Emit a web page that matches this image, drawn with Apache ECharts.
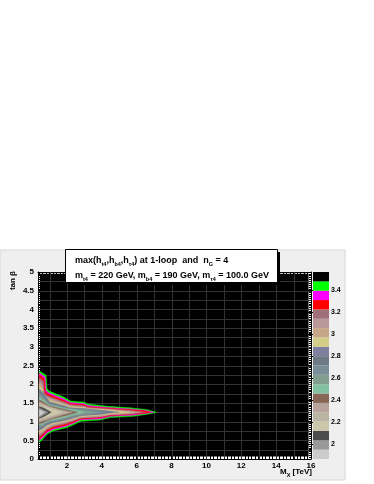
<!DOCTYPE html>
<html><head><meta charset="utf-8">
<script src="https://cdn.jsdelivr.net/npm/echarts@6/dist/echarts.min.js"></script>
<style>html,body{margin:0;padding:0;background:#fff}#c{width:374px;height:484px}</style>
</head><body><div id="c"></div>
<script>
// ---- axes ----
const xMin = 0.34, xMax = 16, yMin = 0, yMax = 5;
const xLabelVals = [2, 4, 6, 8, 10, 12, 14, 16];
const gridX = [1, 2, 3, 4, 5, 6, 7, 8, 9, 10, 11, 12, 13, 14, 15];
const gridY = [0.25, 0.5, 0.75, 1, 1.25, 1.5, 1.75, 2, 2.25, 2.5, 2.75, 3, 3.25, 3.5, 3.75, 4, 4.25, 4.5, 4.75];
const fillX = [0.455, 15.86], fillY = [0.07, 4.95];
// ---- colour scale (contour levels, bottom -> top) ----
const cbLevels = [1.866, 1.951, 2.036, 2.121, 2.206, 2.291, 2.376, 2.461, 2.546, 2.631, 2.716,
                  2.801, 2.886, 2.971, 3.056, 3.141, 3.226, 3.311, 3.396, 3.481, 3.566];
const cbColors = ['#cccccc', '#999999', '#4c4c4c', '#ccc6aa', '#bab5a3', '#b7a39b', '#876656', '#84c1a3',
                  '#829e8c', '#7a8e99', '#6d7a84', '#7f7fa0', '#d3ce87', '#c6a888', '#b89898', '#a07078',
                  '#ff0000', '#ff00ff', '#00ff00', '#000000'];
const cbTickVals = [2, 2.2, 2.4, 2.6, 2.8, 3, 3.2, 3.4];
// ---- contour boundaries (region below each level), [M_X, tan beta] ----
const c19 = [[0.42,2.35],[0.8,2.24],[0.86,1.88],[1.0,1.81],[1.8,1.66],[2.2,1.55],[3.0,1.52],[3.2,1.47],[4.3,1.41],[5.6,1.37],[6.6,1.32],[7.13,1.25],[6.8,1.21],[5.8,1.14],[4.5,1.11],[3.9,1.04],[2.8,1.01],[2.4,0.92],[2.0,0.84],[1.2,0.75],[0.85,0.66],[0.6,0.52],[0.42,0.45]];
const c18 = [[0.42,2.30],[0.75,2.19],[0.8,1.83],[1.0,1.76],[1.8,1.61],[2.2,1.51],[3.0,1.48],[3.2,1.43],[4.3,1.38],[5.6,1.34],[6.5,1.30],[6.98,1.25],[6.6,1.22],[5.8,1.17],[4.5,1.14],[3.9,1.07],[2.8,1.05],[2.4,0.96],[2.0,0.88],[1.2,0.79],[0.85,0.70],[0.6,0.57],[0.42,0.50]];
const c17 = [[0.42,2.25],[0.7,2.14],[0.75,1.79],[1.0,1.72],[1.8,1.57],[2.2,1.48],[3.0,1.45],[3.2,1.40],[4.3,1.36],[5.6,1.32],[6.4,1.29],[6.8,1.25],[6.4,1.22],[5.6,1.19],[4.5,1.16],[3.9,1.10],[2.8,1.07],[2.4,0.99],[2.0,0.91],[1.2,0.82],[0.85,0.74],[0.6,0.61],[0.42,0.54]];
const c16 = [[0.42,2.18],[0.65,2.08],[0.7,1.75],[1.0,1.67],[1.8,1.53],[2.2,1.45],[3.0,1.42],[3.2,1.38],[4.3,1.34],[5.6,1.30],[6.5,1.25],[5.6,1.20],[4.5,1.18],[3.9,1.12],[2.8,1.09],[2.4,1.02],[2.0,0.95],[1.2,0.86],[0.85,0.78],[0.6,0.66],[0.42,0.59]];
const c15 = [[0.42,2.10],[0.6,2.0],[0.65,1.72],[1.0,1.63],[1.8,1.50],[2.2,1.43],[3.0,1.40],[3.2,1.36],[4.3,1.33],[5.6,1.28],[6.2,1.25],[5.6,1.21],[4.5,1.19],[3.9,1.14],[2.8,1.11],[2.4,1.04],[2.0,0.98],[1.2,0.89],[0.85,0.81],[0.6,0.70],[0.42,0.64]];
const c14 = [[0.42,2.02],[0.6,1.92],[0.65,1.68],[1.0,1.59],[1.8,1.47],[2.2,1.41],[3.0,1.38],[3.2,1.35],[4.3,1.32],[5.9,1.25],[5.4,1.22],[4.5,1.20],[3.9,1.16],[2.8,1.13],[2.4,1.06],[2.0,1.00],[1.2,0.92],[0.85,0.84],[0.6,0.74],[0.42,0.68]];
const c13 = [[0.42,1.95],[0.6,1.85],[0.65,1.65],[1.0,1.56],[1.8,1.45],[2.2,1.39],[3.0,1.37],[3.2,1.34],[4.3,1.31],[5.6,1.25],[4.5,1.21],[3.9,1.17],[2.8,1.14],[2.4,1.08],[2.0,1.02],[1.2,0.95],[0.85,0.87],[0.6,0.77],[0.42,0.72]];
const c12 = [[0.42,1.88],[0.6,1.79],[1.0,1.53],[1.8,1.43],[2.2,1.37],[3.0,1.35],[3.2,1.33],[4.3,1.29],[5.0,1.25],[4.3,1.22],[3.9,1.19],[2.8,1.16],[2.4,1.10],[2.0,1.04],[1.2,0.97],[0.85,0.90],[0.6,0.81],[0.42,0.76]];
const c11 = [[0.42,1.82],[0.6,1.74],[1.0,1.50],[1.8,1.41],[2.2,1.36],[3.0,1.34],[3.8,1.30],[4.6,1.25],[3.9,1.20],[2.8,1.17],[2.4,1.12],[2.0,1.06],[1.2,0.99],[0.85,0.93],[0.6,0.84],[0.42,0.80]];
const c10 = [[0.42,1.76],[0.6,1.69],[1.0,1.48],[1.8,1.39],[2.2,1.35],[3.0,1.32],[3.6,1.29],[4.2,1.25],[3.6,1.21],[2.8,1.18],[2.4,1.14],[2.0,1.08],[1.2,1.01],[0.85,0.96],[0.6,0.87],[0.42,0.84]];
const c9  = [[0.42,1.70],[0.6,1.64],[1.0,1.46],[1.8,1.37],[2.4,1.33],[3.0,1.30],[3.7,1.25],[3.0,1.20],[2.4,1.16],[2.0,1.10],[1.2,1.03],[0.85,0.98],[0.6,0.90],[0.42,0.88]];
const c8  = [[0.42,1.64],[0.6,1.59],[1.0,1.44],[1.8,1.35],[2.4,1.31],[3.0,1.25],[2.4,1.19],[2.0,1.13],[1.2,1.05],[0.85,1.00],[0.6,0.93],[0.42,0.92]];
const c7  = [[0.42,1.58],[0.6,1.54],[1.0,1.42],[1.8,1.33],[2.6,1.25],[2.0,1.17],[1.2,1.08],[0.85,1.02],[0.6,0.96],[0.42,0.95]];
const c6  = [[0.42,1.53],[0.6,1.49],[1.0,1.40],[1.6,1.32],[2.3,1.25],[1.8,1.19],[1.2,1.11],[0.85,1.05],[0.42,0.99]];
const c5  = [[0.42,1.48],[0.6,1.45],[1.0,1.38],[2.0,1.25],[1.5,1.18],[1.0,1.12],[0.6,1.06],[0.42,1.02]];
const c4  = [[0.42,1.44],[0.6,1.42],[1.7,1.25],[1.2,1.17],[0.6,1.09],[0.42,1.05]];
const c3  = [[0.42,1.40],[0.6,1.38],[1.1,1.25],[0.7,1.14],[0.42,1.08]];
const c2  = [[0.42,1.36],[0.9,1.25],[0.42,1.11]];
const c1  = [[0.42,1.32],[0.7,1.25],[0.42,1.15]];
// outer -> inner; polygon k is filled with band colour cbColors[k-1]
const contours = [c19, c18, c17, c16, c15, c14, c13, c12, c11, c10, c9, c8, c7, c6, c5, c4, c3, c2, c1];
const contourBand = [19, 18, 17, 16, 15, 14, 13, 12, 11, 10, 9, 8, 7, 6, 5, 4, 3, 2, 1];

const xTickVals = [];
for (let v = 0.4; v <= 16.0001; v += 0.2) xTickVals.push(Math.round(v * 10) / 10);

const FONT = '"Liberation Sans", Arial, Helvetica, sans-serif';
const chart = echarts.init(document.getElementById('c'), null, { renderer: 'canvas' });

const axBase = {
  axisLine: { show: true, onZero: false, lineStyle: { color: '#000', width: 1 } },
  splitLine: { show: false }
};

const option = {
  animation: false,
  backgroundColor: '#ffffff',
  grid: [
    { left: 38, top: 272, width: 273, height: 187, show: true, backgroundColor: '#ffffff', borderWidth: 0 },
    { left: 313, top: 272, width: 16, height: 187, show: false }
  ],
  xAxis: [
    Object.assign({}, axBase, {
      gridIndex: 0, type: 'value', min: xMin, max: xMax, position: 'bottom',
      axisTick: { show: true, inside: true, length: 4, customValues: xTickVals, lineStyle: { color: '#000' } },
      axisLabel: { customValues: xLabelVals, fontFamily: FONT, fontWeight: 'bold', fontSize: 8, color: '#000', margin: 3 }
    }),
    Object.assign({}, axBase, {
      gridIndex: 0, type: 'value', min: xMin, max: xMax, position: 'top',
      axisTick: { show: true, inside: true, length: 4, customValues: xTickVals, lineStyle: { color: '#000' } },
      axisLabel: { show: false }
    }),
    { gridIndex: 1, type: 'value', min: 0, max: 1, show: false }
  ],
  yAxis: [
    Object.assign({}, axBase, {
      gridIndex: 0, type: 'value', min: yMin, max: yMax, interval: 0.5, position: 'left',
      axisTick: { show: true, inside: true, length: 5, lineStyle: { color: '#000' } },
      minorTick: { show: true, splitNumber: 10, length: 2, lineStyle: { color: '#000' } },
      axisLabel: { fontFamily: FONT, fontWeight: 'bold', fontSize: 8, color: '#000', margin: 4 }
    }),
    Object.assign({}, axBase, {
      gridIndex: 0, type: 'value', min: yMin, max: yMax, interval: 0.5, position: 'right',
      axisTick: { show: true, inside: true, length: 5, lineStyle: { color: '#000' } },
      minorTick: { show: true, splitNumber: 10, length: 2, lineStyle: { color: '#000' } },
      axisLabel: { show: false }
    }),
    {
      gridIndex: 1, type: 'value', min: cbLevels[0], max: cbLevels[cbLevels.length - 1], position: 'right',
      axisLine: { show: false }, splitLine: { show: false },
      axisTick: { show: true, inside: true, length: 7, customValues: cbTickVals, lineStyle: { color: '#000' } },
      axisLabel: { customValues: cbTickVals, fontFamily: FONT, fontWeight: 'bold', fontSize: 7, color: '#000', margin: 2,
                   formatter: v => String(Math.round(v * 10) / 10) }
    }
  ],
  series: [
    { // black filled bin area
      type: 'custom', xAxisIndex: 0, yAxisIndex: 0, silent: true, clip: true, z: 1,
      data: [[1, 1]],
      renderItem: (p, api) => {
        const a = api.coord([fillX[0], fillY[1]]), b = api.coord([fillX[1], fillY[0]]);
        return { type: 'rect', shape: { x: a[0], y: a[1], width: b[0] - a[0], height: b[1] - a[1] }, style: { fill: '#000' } };
      }
    },
    { // grid lines
      type: 'custom', xAxisIndex: 0, yAxisIndex: 0, silent: true, clip: true, z: 2,
      data: [[1, 1]],
      renderItem: (p, api) => {
        const ch = [];
        gridX.forEach(v => {
          const a = api.coord([v, yMin]), b = api.coord([v, yMax]);
          ch.push({ type: 'line', shape: { x1: Math.round(a[0]) + 0.5, y1: a[1], x2: Math.round(b[0]) + 0.5, y2: b[1] }, style: { stroke: '#333333', lineWidth: 1 } });
        });
        gridY.forEach(v => {
          const a = api.coord([xMin, v]), b = api.coord([xMax, v]);
          ch.push({ type: 'line', shape: { x1: a[0], y1: Math.round(a[1]) + 0.5, x2: b[0], y2: Math.round(b[1]) + 0.5 }, style: { stroke: '#333333', lineWidth: 1 } });
        });
        return { type: 'group', children: ch };
      }
    },
    { // filled contours
      type: 'custom', xAxisIndex: 0, yAxisIndex: 0, silent: true, clip: true, z: 3,
      data: contours.map((c, i) => [1, 1, i]),
      renderItem: (p, api) => {
        const i = p.dataIndex;
        const pts = contours[i].map(pt => api.coord(pt));
        const col = cbColors[contourBand[i] - 1];
        return { type: 'polygon', shape: { points: pts }, style: { fill: col, stroke: col, lineWidth: 0.5 } };
      }
    },
    { // colour bar
      type: 'custom', xAxisIndex: 2, yAxisIndex: 2, silent: true, z: 3,
      data: cbColors.map((c, i) => [0.5, i]),
      renderItem: (p, api) => {
        const i = p.dataIndex;
        const a = api.coord([0, cbLevels[i + 1]]), b = api.coord([1, cbLevels[i]]);
        return { type: 'rect', shape: { x: a[0], y: a[1], width: b[0] - a[0], height: b[1] - a[1] }, style: { fill: cbColors[i] } };
      }
    }
  ],
  graphic: [
    { type: 'rect', z: -100, shape: { x: 0, y: 250, width: 345, height: 230 }, style: { fill: '#efefef', stroke: '#d6d6d6', lineWidth: 1 } },
    { type: 'rect', z: 100, shape: { x: 68, y: 252, width: 212, height: 33 }, style: { fill: '#000' } },
    { type: 'rect', z: 101, shape: { x: 65.5, y: 249.5, width: 212, height: 33 }, style: { fill: '#fff', stroke: '#000', lineWidth: 1 } },
    { type: 'text', z: 102, x: 75, y: 260.5,
      style: { text: '{m|max(h}{s|t4}{m|,h}{s|b4}{m|,h}{s|τ4}{m|) at 1-loop  and  n}{s|G}{m| = 4}', align: 'left', verticalAlign: 'middle',
        rich: { m: { fontFamily: FONT, fontWeight: 'bold', fontSize: 9, lineHeight: 13, verticalAlign: 'middle', fill: '#000' },
                s: { fontFamily: FONT, fontWeight: 'bold', fontSize: 5.5, lineHeight: 13, verticalAlign: 'bottom', fill: '#000' } } } },
    { type: 'text', z: 102, x: 75, y: 276,
      style: { text: '{m|m}{s|t4}{m| = 220 GeV, m}{s|b4}{m| = 190 GeV, m}{s|τ4}{m| = 100.0 GeV}', align: 'left', verticalAlign: 'middle',
        rich: { m: { fontFamily: FONT, fontWeight: 'bold', fontSize: 9, lineHeight: 13, verticalAlign: 'middle', fill: '#000' },
                s: { fontFamily: FONT, fontWeight: 'bold', fontSize: 5.5, lineHeight: 13, verticalAlign: 'bottom', fill: '#000' } } } },
    { type: 'text', z: 102, x: 312, y: 472,
      style: { text: '{m|M}{s|X}{m| [TeV]}', align: 'right', verticalAlign: 'middle',
        rich: { m: { fontFamily: FONT, fontWeight: 'bold', fontSize: 8, lineHeight: 12, verticalAlign: 'middle', fill: '#000' },
                s: { fontFamily: FONT, fontWeight: 'bold', fontSize: 5.5, lineHeight: 12, verticalAlign: 'bottom', fill: '#000' } } } },
    { type: 'text', z: 102, x: 12.5, y: 271, rotation: Math.PI / 2,
      style: { text: 'tan β', align: 'right', verticalAlign: 'middle', fontFamily: FONT, fontWeight: 'bold', fontSize: 8, fill: '#000' } }
  ]
};
chart.setOption(option);
</script></body></html>
